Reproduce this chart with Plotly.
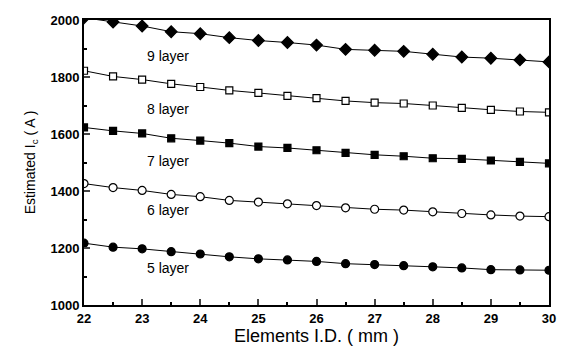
import plotly.graph_objects as go

x_id = [22, 22.5, 23, 23.5, 24, 24.5, 25, 25.5, 26, 26.5, 27, 27.5, 28, 28.5, 29, 29.5, 30]
layer9 = [2008, 1993, 1979, 1959, 1952, 1938, 1928, 1921, 1912, 1897, 1894, 1890, 1880, 1870, 1866, 1860, 1853]
layer8 = [1822, 1802, 1791, 1776, 1765, 1753, 1744, 1734, 1726, 1716, 1710, 1707, 1700, 1692, 1685, 1679, 1676]
layer7 = [1623, 1611, 1602, 1585, 1577, 1568, 1556, 1551, 1543, 1534, 1527, 1522, 1515, 1513, 1507, 1502, 1497]
layer6 = [1426, 1412, 1402, 1388, 1380, 1367, 1361, 1355, 1349, 1341, 1336, 1333, 1327, 1321, 1316, 1312, 1310]
layer5 = [1217, 1203, 1197, 1187, 1179, 1169, 1162, 1158, 1153, 1145, 1142, 1138, 1134, 1130, 1124, 1123, 1122]

series = [
    ("9 layer", layer9, "diamond", "black", 9, 1873),
    ("8 layer", layer8, "square", "white", 7, 1688),
    ("7 layer", layer7, "square", "black", 7, 1507),
    ("6 layer", layer6, "circle", "white", 8, 1332),
    ("5 layer", layer5, "circle", "black", 8, 1130),
]

fig = go.Figure()
for name, ys, sym, fill, sz, ly in series:
    fig.add_trace(go.Scatter(
        x=x_id, y=ys, mode="lines+markers", name=name,
        line=dict(color="black", width=1),
        marker=dict(symbol=sym, size=sz, color=fill,
                    line=dict(color="black", width=1.2)),
        showlegend=False,
    ))
    fig.add_annotation(x=23.45, y=ly, text=name, showarrow=False,
                       font=dict(family="Liberation Sans", size=14, color="black"))

fig.update_layout(
    width=557, height=348,
    margin=dict(l=76, r=16, t=5, b=51),
    paper_bgcolor="white", plot_bgcolor="white",
    font=dict(family="Liberation Sans", color="black"),
)
fig.update_xaxes(
    range=[22, 30], dtick=1, ticks="inside", ticklen=6, tickwidth=1.5,
    minor=dict(dtick=0.5, ticks="inside", ticklen=3, tickcolor="black"),
    showline=True, linecolor="black", linewidth=2, mirror=True,
    showgrid=False, zeroline=False, ticklabeloverflow="allow",
    tickfont=dict(family="Liberation Sans", size=13, color="black", weight="bold"),
    title=dict(text="Elements I.D. ( mm )", font=dict(size=18), standoff=4),
)
fig.update_yaxes(
    range=[1000, 2000], dtick=200, ticks="inside", ticklen=6, tickwidth=1.5,
    minor=dict(dtick=100, ticks="inside", ticklen=3, tickcolor="black"),
    showline=True, linecolor="black", linewidth=2, mirror=True,
    showgrid=False, zeroline=False, ticklabeloverflow="allow",
    tickfont=dict(family="Liberation Sans", size=13, color="black", weight="bold"),
    title=dict(text="Estimated I<sub>c</sub> ( A )", font=dict(size=14), standoff=12),
)
fig.write_html("out.html")
